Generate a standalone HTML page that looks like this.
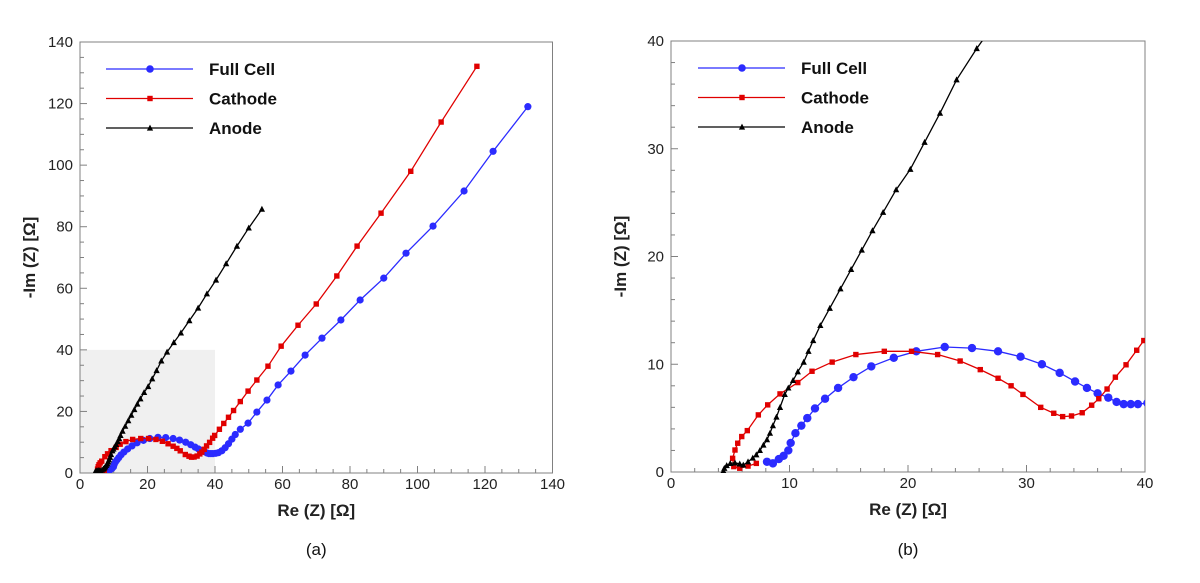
<!DOCTYPE html>
<html><head><meta charset="utf-8"><style>
html,body{margin:0;padding:0;background:#fff}
svg{display:block}
text{font-family:"Liberation Sans",Arial,sans-serif}
</style></head><body>
<svg id="svg" width="1200" height="583" viewBox="0 0 1200 583" xmlns="http://www.w3.org/2000/svg">
<defs>
<clipPath id="clipA"><rect x="80" y="42" width="473" height="431"/></clipPath>
<clipPath id="clipB"><rect x="671" y="41" width="474" height="432"/></clipPath>
</defs>
</svg>
<script>
const fullX=[8.1,8.6,9.1,9.5,9.9,10.1,10.5,11.0,11.5,12.15,13.0,14.1,15.4,16.9,18.8,20.7,23.1,25.4,27.6,29.5,31.3,32.8,34.1,35.1,36.0,36.9,37.6,38.2,38.8,39.4,40.2,41.0,42.0,43.0,44.0,45.0,46.0,47.5,49.8,52.4,55.4,58.7,62.5,66.7,71.7,77.3,83.0,90.0,96.6,104.6,113.8,122.4,132.7];
const fullY=[0.95,0.8,1.2,1.5,2.0,2.7,3.6,4.3,5.0,5.9,6.8,7.8,8.8,9.8,10.6,11.2,11.6,11.5,11.2,10.7,10.0,9.2,8.4,7.8,7.3,6.9,6.5,6.3,6.3,6.3,6.4,6.6,7.2,8.2,9.5,11.0,12.5,14.2,16.2,19.8,23.7,28.6,33.1,38.3,43.8,49.7,56.2,63.3,71.4,80.2,91.6,104.5,119.0];
const cathX=[7.2,6.5,5.8,5.3,5.2,5.4,5.63,5.97,6.44,7.37,8.16,9.2,10.7,11.9,13.6,15.6,18.0,20.3,22.5,24.4,26.1,27.6,28.7,29.7,31.2,32.3,33.05,33.8,34.7,35.5,36.1,36.8,37.5,38.4,39.3,39.9,41.3,42.6,44.0,45.5,47.5,49.8,52.4,55.7,59.6,64.6,70.0,76.1,82.1,89.2,98.0,107.0,117.6];
const cathY=[0.8,0.55,0.35,0.5,1.27,2.04,2.67,3.29,3.84,5.3,6.23,7.25,8.3,9.35,10.2,10.9,11.2,11.2,10.9,10.3,9.5,8.7,8.0,7.2,6.0,5.45,5.14,5.2,5.5,6.2,6.8,7.7,8.8,9.95,11.3,12.2,14.2,16.1,18.1,20.3,23.2,26.6,30.2,34.7,41.2,48.0,54.9,64.0,73.7,84.4,98.0,114.0,132.1];
const anodeX=[4.42,4.5,4.7,5.0,5.4,5.8,6.1,6.5,6.9,7.2,7.5,7.8,8.1,8.35,8.6,8.9,9.2,9.6,9.9,10.3,10.7,11.2,11.6,12.0,12.6,13.4,14.3,15.2,16.1,17.0,17.9,19.0,20.2,21.4,22.7,24.1,25.8,27.8,29.9,32.4,35.0,37.6,40.3,43.3,46.5,50.0,53.9];
const anodeY=[0.1,0.35,0.6,0.8,0.85,0.75,0.65,0.95,1.3,1.6,2.0,2.5,3.0,3.6,4.3,5.1,6.0,7.2,7.8,8.5,9.3,10.2,11.2,12.2,13.6,15.2,17.0,18.8,20.6,22.4,24.1,26.2,28.1,30.6,33.3,36.4,39.3,42.4,45.5,49.5,53.6,58.2,62.7,68.0,73.7,79.6,85.7];
const ticksA=[0,20,40,60,80,100,120,140];
const ticksB=[0,10,20,30,40];
const seriesNames=["Full Cell","Cathode","Anode"];

const NS="http://www.w3.org/2000/svg";
const svg=document.getElementById('svg');
function mk(tag,attrs,parent){const e=document.createElementNS(NS,tag);for(const k in attrs)e.setAttribute(k,attrs[k]);(parent||svg).appendChild(e);return e;}

function chart(c){
  const g=mk('g',{});
  
  
  const sx=v=>c.x0+(v-c.min)/(c.max-c.min)*(c.x1-c.x0);
  const sy=v=>c.y0-(v-c.min)/(c.max-c.min)*(c.y0-c.y1);
  if(c.shade){const r=mk('rect',{x:sx(0),y:sy(40),width:sx(40)-sx(0),height:sy(0)-sy(40),fill:'#f0f0f0'},g);
    
    }
  const frame=mk('rect',{x:c.x0,y:c.y1,width:c.x1-c.x0,height:c.y0-c.y1,fill:'none',stroke:'#808080','stroke-width':1},g);
  
  
  for(let v=c.min;v<=c.max+1e-9;v+=c.minor){
    const major=Math.abs(v/c.major-Math.round(v/c.major))<1e-6;const L=major?7:4;
    mk('line',{x1:sx(v),x2:sx(v),y1:c.y0,y2:c.y0-L,stroke:'#808080'},g);
    mk('line',{x1:c.x0,x2:c.x0+L,y1:sy(v),y2:sy(v),stroke:'#808080'},g);
  }
  c.ticks.forEach(v=>{
    const t=mk('text',{x:sx(v),y:c.y0+16,'text-anchor':'middle','font-size':15,fill:'#222'},g);t.textContent=v;
    
    
  });
  c.yticks.forEach(v=>{
    const t=mk('text',{x:c.x0-7,y:sy(v)+5,'text-anchor':'end','font-size':15,fill:'#222'},g);t.textContent=v;
    
    
  });
  const xt=mk('text',{x:(c.x0+c.x1)/2,y:c.y0+43,'text-anchor':'middle','font-size':17,'font-weight':'bold',fill:'#222'},g);xt.textContent='Re (Z) [Ω]';
  
  
  const yx=c.x0-45,yy=(c.y0+c.y1)/2;
  const yt=mk('text',{x:yx,y:yy,'text-anchor':'middle','font-size':17,'font-weight':'bold',fill:'#222',transform:`rotate(-90 ${yx} ${yy})`},g);yt.textContent='-Im (Z) [Ω]';
  
  
  const cap=mk('text',{x:(c.x0+c.x1)/2,y:555,'text-anchor':'middle','font-size':17,fill:'#111','font-family':'"Liberation Serif",serif'},g);cap.textContent=c.caption;
  
  
  const pg=mk('g',{'clip-path':`url(#${c.clip})`},g);
  const ser=[[fullX,fullY,'#2b2bff','circle',c.r],[cathX,cathY,'#e00000','square',2.7],[anodeX,anodeY,'#000','tri',2.6]];
  ser.forEach((s,i)=>{
    const sg=mk('g',{},pg);
    
    
    const pts=s[0].map((x,j)=>sx(x)+','+sy(s[1][j])).join(' ');
    mk('polyline',{points:pts,fill:'none',stroke:s[2],'stroke-width':1.3},sg);
    s[0].forEach((x,j)=>drawMarker(sg,s[3],sx(x),sy(s[1][j]),s[4],s[2]));
  });
  seriesNames.forEach((n,i)=>{
    const y=c.ly+i*29.5;const s=ser[i];
    const lg=mk('g',{},g);
    
    
    mk('line',{x1:c.lx,x2:c.lx+87,y1:y,y2:y,stroke:s[2],'stroke-width':1.3},lg);
    drawMarker(lg,s[3],c.lx+44,y,s[3]==='circle'?3.8:s[4],s[2]);
    const t=mk('text',{x:c.lx+103,y:y+6,'font-size':17,'font-weight':'bold',fill:'#111'},lg);t.textContent=n;
  });
}
function drawMarker(g,type,x,y,r,col){
  if(type==='circle')mk('circle',{cx:x,cy:y,r:r,fill:col},g);
  else if(type==='square')mk('rect',{x:x-r,y:y-r,width:2*r,height:2*r,fill:col},g);
  else mk('polygon',{points:`${x},${y-r*1.3} ${x-r*1.2},${y+r} ${x+r*1.2},${y+r}`,fill:col},g);
}
chart({name:'chart-a',x0:80,x1:552.5,y0:473,y1:42,min:0,max:140,major:20,minor:5,ticks:ticksA,yticks:ticksA,clip:'clipA',shade:true,caption:'(a)',lx:106,ly:69,r:3.6});
chart({name:'chart-b',x0:671,x1:1145,y0:472,y1:41,min:0,max:40,major:10,minor:2,ticks:ticksB,yticks:ticksB,clip:'clipB',shade:false,caption:'(b)',lx:698,ly:68,r:4.2});
</script>
</body></html>
